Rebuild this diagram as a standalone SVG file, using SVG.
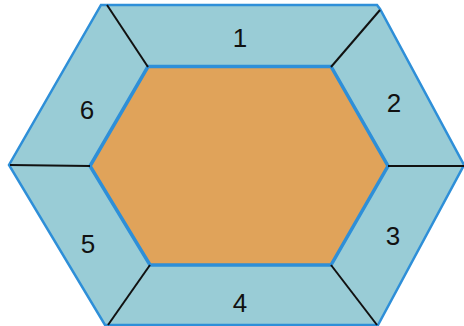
<svg xmlns="http://www.w3.org/2000/svg" width="464" height="326" viewBox="0 0 464 326">
  <style>
    .outer { fill: #99ccd6; stroke: #2e8fd8; stroke-width: 2.5; stroke-linejoin: miter; }
    .inner { fill: #e0a35a; stroke: #2e8fd8; stroke-width: 3.5; stroke-linejoin: miter; }
    .div { stroke: #111; stroke-width: 2; fill: none; }
    .lbl { font-family: "Liberation Sans", Arial, sans-serif; font-size: 26px; fill: #111; text-anchor: middle; }
  </style>
  <rect width="464" height="326" fill="#ffffff"/>
  <g id="outer-ring">
    <polygon class="outer" points="101,5 377,5 380,9 464,165 378,325 105,325 9,165"/>
  </g>
  <g id="core">
    <polygon class="inner" points="148,66.5 331,66.5 388,166 331,265 150,265 90,166"/>
  </g>
  <g id="connectors">
    <line class="div" x1="107" y1="5" x2="148" y2="67"/>
    <line class="div" x1="380" y1="10" x2="331" y2="67"/>
    <line class="div" x1="388" y1="166" x2="464" y2="166"/>
    <line class="div" x1="331" y1="265" x2="377" y2="325"/>
    <line class="div" x1="150" y1="265" x2="108" y2="325"/>
    <line class="div" x1="90" y1="166" x2="10" y2="165"/>
  </g>
  <g id="segment-1"><text class="lbl" x="240" y="47">1</text></g>
  <g id="segment-2"><text class="lbl" x="394" y="112">2</text></g>
  <g id="segment-3"><text class="lbl" x="393" y="245">3</text></g>
  <g id="segment-4"><text class="lbl" x="240" y="312">4</text></g>
  <g id="segment-5"><text class="lbl" x="88" y="253">5</text></g>
  <g id="segment-6"><text class="lbl" x="87" y="119">6</text></g>
</svg>
